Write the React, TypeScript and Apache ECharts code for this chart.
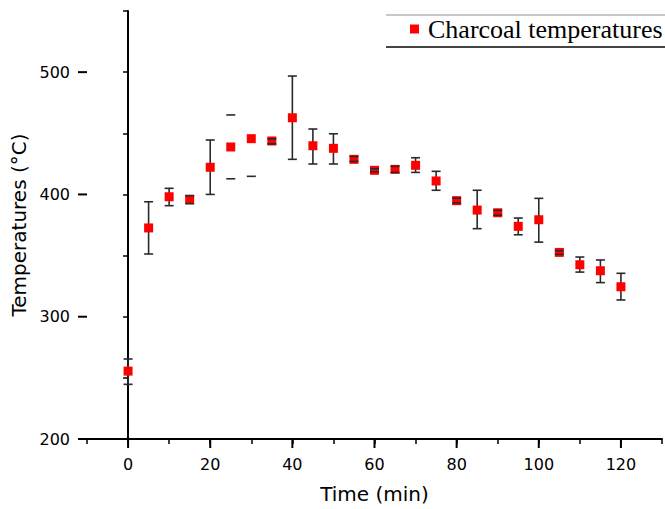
import React, { useEffect, useRef } from "react";
import * as echarts from "echarts";

// Time (min)
const times = [0, 5, 10, 15, 20, 25, 30, 35, 40, 45, 50, 55, 60, 65, 70, 75, 80, 85, 90, 95, 100, 105, 110, 115, 120];
// Mean charcoal temperature (°C)
const temps = [255.5, 372.6, 398.1, 396.0, 422.2, 438.8, 445.6, 443.7, 462.7, 439.8, 437.7, 428.7, 419.7, 420.5, 423.8, 411.0, 394.9, 387.2, 385.0, 373.9, 379.3, 352.6, 342.5, 337.6, 324.5];
// Error bar lower / upper ends (null = cap not drawn in the original)
const errLow: (number | null)[] = [244.7, 351.3, 390.8, 392.4, 400.0, 412.8, 414.8, 441.3, 428.7, 424.9, 424.9, 427.0, 418.5, 418.0, 418.0, 403.4, 393.0, 372.0, 383.0, 367.0, 361.0, 351.0, 336.5, 327.9, 313.7];
const errHigh: (number | null)[] = [265.4, 394.0, 405.0, 399.0, 444.5, 465.0, null, 445.5, 496.8, 453.5, 449.6, 431.0, 421.0, 423.0, 430.0, 418.9, 397.0, 403.4, 387.0, 380.7, 396.8, 354.0, 348.8, 346.4, 335.5];
// whether the vertical stem of the error bar is visible
const stemShown = [true, true, true, true, true, false, false, true, true, true, true, true, true, true, true, true, true, true, true, true, true, true, true, true, true];

const xMajorTicks = [0, 20, 40, 60, 80, 100, 120];
const yMajorTicks = [200, 300, 400, 500];
const seriesName = "Charcoal temperatures";

export default function App() {
  const ref = useRef<HTMLDivElement>(null);
  useEffect(() => {
    document.body.style.margin = "0";
    if (!ref.current) return;
    const chart = echarts.init(ref.current, undefined, { renderer: "svg" });
    const sans = "DejaVu Sans, Arial, sans-serif";
    const errStyle = { stroke: "#2a2a2a", lineWidth: 1.6 };
    const half = 4.5;
    const option: any = {
      animation: false,
      grid: { left: 87, right: 3, top: 11, bottom: 70, containLabel: false },
      legend: {
        data: [seriesName],
        left: 410,
        top: 16,
        padding: 0,
        itemWidth: 9,
        itemHeight: 9,
        icon: "rect",
        textStyle: {
          fontFamily: "Liberation Serif, Times New Roman, serif",
          fontSize: 26,
          color: "#000",
          padding: [0, 0, 0, 4],
        },
      },
      graphic: [
        { type: "line", shape: { x1: 386, y1: 15, x2: 665, y2: 15 }, style: { stroke: "#c8c8c8", lineWidth: 2 } },
        { type: "line", shape: { x1: 386, y1: 47, x2: 665, y2: 47 }, style: { stroke: "#444", lineWidth: 2 } },
      ],
      xAxis: {
        type: "value",
        min: -10,
        max: 130,
        interval: 10,
        name: "Time (min)",
        nameLocation: "middle",
        nameGap: 45,
        nameTextStyle: { fontFamily: sans, fontSize: 20, color: "#000" },
        axisLine: { lineStyle: { color: "#000", width: 2 } },
        axisTick: { length: 5, lineStyle: { color: "#000", width: 1.5 } },
        axisLabel: {
          fontFamily: sans,
          fontSize: 16,
          color: "#000",
          margin: 17,
          formatter: (v: number) => (v % 20 === 0 && v >= 0 && v <= 120 ? String(v) : ""),
        },
        splitLine: { show: false },
      },
      yAxis: {
        type: "value",
        min: 200,
        max: 550,
        interval: 50,
        name: "Temperatures (°C)",
        nameLocation: "middle",
        nameGap: 57,
        nameTextStyle: { fontFamily: sans, fontSize: 20, color: "#000" },
        axisLine: { lineStyle: { color: "#000", width: 2 } },
        axisTick: { length: 5, lineStyle: { color: "#000", width: 1.5 } },
        axisLabel: {
          fontFamily: sans,
          fontSize: 16,
          color: "#000",
          margin: 17,
          formatter: (v: number) => (v % 100 === 0 && v <= 500 ? String(v) : ""),
        },
        splitLine: { show: false },
      },
      series: [
        {
          type: "custom",
          name: "majorTicks",
          silent: true,
          data: [[0, 200]],
          renderItem: (params: any, api: any) => {
            const children: any[] = [];
            xMajorTicks.forEach((v) => {
              const p = api.coord([v, 200]);
              children.push({
                type: "line",
                shape: { x1: p[0], y1: p[1], x2: p[0], y2: p[1] + 9 },
                style: { stroke: "#000", lineWidth: 2 },
              });
            });
            yMajorTicks.forEach((v) => {
              const p = api.coord([-10, v]);
              children.push({
                type: "line",
                shape: { x1: p[0] - 9, y1: p[1], x2: p[0], y2: p[1] },
                style: { stroke: "#000", lineWidth: 2 },
              });
            });
            return { type: "group", children };
          },
          z: 1,
        },
        {
          type: "custom",
          name: "errorStems",
          silent: true,
          data: times.map((t, i) => [t, temps[i]]),
          renderItem: (params: any, api: any) => {
            const i = params.dataIndex;
            const lo = errLow[i];
            const hi = errHigh[i];
            if (!stemShown[i] || lo == null || hi == null) return { type: "group", children: [] };
            const pLo = api.coord([times[i], lo]);
            const pHi = api.coord([times[i], hi]);
            return { type: "line", shape: { x1: pLo[0], y1: pLo[1], x2: pHi[0], y2: pHi[1] }, style: errStyle };
          },
          z: 2,
        },
        {
          type: "scatter",
          name: seriesName,
          symbol: "rect",
          symbolSize: 9,
          itemStyle: { color: "#ff0000", opacity: 1 },
          data: times.map((t, i) => [t, temps[i]]),
          z: 3,
        },
        {
          type: "custom",
          name: "errorCaps",
          silent: true,
          data: times.map((t, i) => [t, temps[i]]),
          renderItem: (params: any, api: any) => {
            const i = params.dataIndex;
            const children: any[] = [];
            [errLow[i], errHigh[i]].forEach((v) => {
              if (v == null) return;
              const p = api.coord([times[i], v]);
              children.push({ type: "line", shape: { x1: p[0] - half, y1: p[1], x2: p[0] + half, y2: p[1] }, style: errStyle });
            });
            return { type: "group", children };
          },
          z: 4,
        },
      ],
    };
    chart.setOption(option);
    return () => chart.dispose();
  }, []);
  return <div ref={ref} style={{ width: 665, height: 509 }} />;
}
